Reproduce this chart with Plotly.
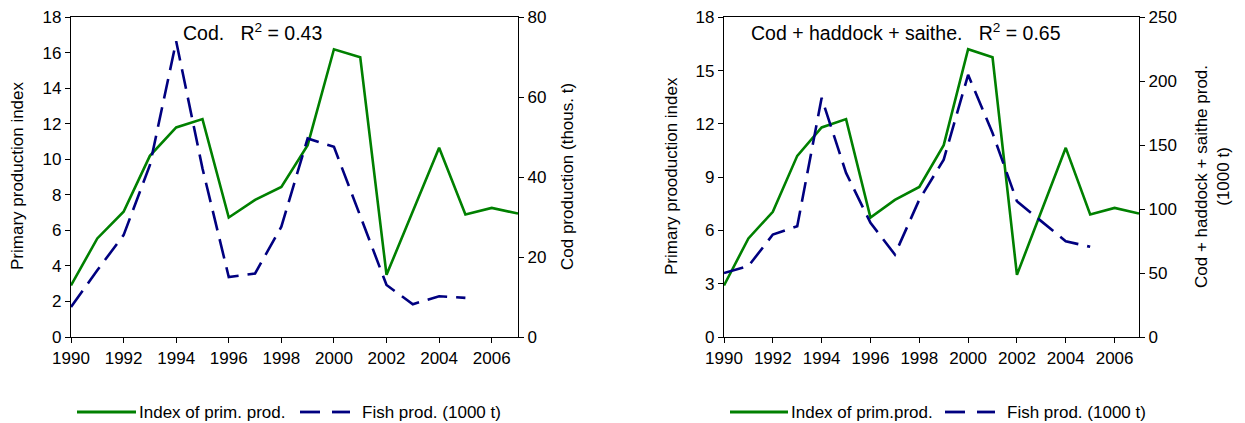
import plotly.graph_objects as go

# Years of the record
years = list(range(1990, 2008))

# Primary production index (same series in both panels)
prim_index = [2.9, 5.55, 7.05, 10.2, 11.8, 12.27, 6.73, 7.72, 8.45, 10.8,
              16.2, 15.75, 3.5, 7.1, 10.65, 6.9, 7.27, 6.95]

# Cod production, thousand tonnes (1990-2005)
fish_years = list(range(1990, 2006))
cod_prod = [7.5, 16.7, 25.5, 43.0, 74.0, 42.2, 15.0, 15.9, 27.6, 49.7,
            47.6, 30.1, 13.0, 8.2, 10.2, 9.8]

# Cod + haddock + saithe production, 1000 t (1990-2005)
chs_prod = [50.0, 55.4, 80.1, 86.6, 187.0, 128.3, 89.3, 64.5, 107.4, 138.7,
            205.0, 159.5, 106.1, 90.5, 74.9, 70.5]

GREEN = "#008000"
NAVY = "#000080"
FONT = "Liberation Sans, Arial, sans-serif"
FS = 17
TITLE_FS = 19.5
W, H = 1245, 423
DASH = "20px,9px"

x_ticks = list(range(1990, 2007, 2))

fig = go.Figure()

# Left panel
fig.add_trace(go.Scatter(x=years, y=prim_index, mode="lines",
                         line=dict(color=GREEN, width=2.6),
                         xaxis="x", yaxis="y", showlegend=False))
fig.add_trace(go.Scatter(x=fish_years, y=cod_prod, mode="lines",
                         line=dict(color=NAVY, width=2.6, dash=DASH),
                         xaxis="x", yaxis="y2", showlegend=False))
# Right panel
fig.add_trace(go.Scatter(x=years, y=prim_index, mode="lines",
                         line=dict(color=GREEN, width=2.6),
                         xaxis="x2", yaxis="y3", showlegend=False))
fig.add_trace(go.Scatter(x=fish_years, y=chs_prod, mode="lines",
                         line=dict(color=NAVY, width=2.6, dash=DASH),
                         xaxis="x2", yaxis="y4", showlegend=False))

def px_x(p):
    return p / W

def px_y(p):
    return 1 - p / H

ydom = [px_y(337), px_y(17.3)]
axis_common = dict(showline=True, linecolor="black", linewidth=1.3,
                   ticks="outside", ticklen=5, tickcolor="black",
                   showgrid=False, zeroline=False, automargin=False,
                   tickfont=dict(family=FONT, size=FS, color="black"))

fig.update_layout(
    width=W, height=H,
    margin=dict(l=0, r=0, t=0, b=0),
    paper_bgcolor="white", plot_bgcolor="white",
    font=dict(family=FONT, size=FS, color="black"),
    xaxis=dict(domain=[px_x(71), px_x(518)], range=[1990, 2007],
               tickvals=x_ticks, anchor="y", mirror=True, **axis_common),
    yaxis=dict(domain=ydom, range=[0, 18], dtick=2, anchor="x", **axis_common),
    yaxis2=dict(range=[0, 80], dtick=20, overlaying="y", side="right",
                anchor="x", **axis_common),
    xaxis2=dict(domain=[px_x(724), px_x(1139)], range=[1990, 2007],
                tickvals=x_ticks, anchor="y3", mirror=True, **axis_common),
    yaxis3=dict(domain=ydom, range=[0, 18], dtick=3, anchor="x2", **axis_common),
    yaxis4=dict(range=[0, 250], dtick=50, overlaying="y3", side="right",
                anchor="x2", **axis_common),
)

# Axis titles
texts = [
    (18, 176, "Primary production index"),
    (567, 177, "Cod production (thous. t)"),
    (672, 176, "Primary prooduction index"),
    (1212, 177, "Cod + haddock + saithe prod.<br>(1000 t)"),
]
for x, y, t in texts:
    fig.add_annotation(x=px_x(x), y=px_y(y), xref="paper", yref="paper",
                       xanchor="center", yanchor="middle",
                       text=t, textangle=-90, showarrow=False,
                       font=dict(family=FONT, size=FS, color="black"))

# Panel headings
fig.add_annotation(x=px_x(181), y=px_y(32), xref="paper", yref="paper",
                   xanchor="left", yanchor="middle", showarrow=False,
                   text="Cod.&nbsp;&nbsp;&nbsp;R<sup>2</sup> = 0.43",
                   font=dict(family=FONT, size=TITLE_FS, color="black"))
fig.add_annotation(x=px_x(749), y=px_y(32), xref="paper", yref="paper",
                   xanchor="left", yanchor="middle", showarrow=False,
                   text="Cod + haddock + saithe.&nbsp;&nbsp;&nbsp;R<sup>2</sup> = 0.65",
                   font=dict(family=FONT, size=TITLE_FS, color="black"))

# Legend keys drawn below each panel
legend_y = px_y(412)
def key_line(x0, x1, color):
    fig.add_shape(type="line", xref="paper", yref="paper",
                  x0=px_x(x0), x1=px_x(x1), y0=legend_y, y1=legend_y,
                  line=dict(color=color, width=2.8))

def key_text(x, t):
    fig.add_annotation(x=px_x(x), y=legend_y, xref="paper", yref="paper",
                       xanchor="left", yanchor="middle", showarrow=False,
                       text=t, font=dict(family=FONT, size=FS, color="black"))

key_line(77, 136, GREEN)
key_text(137, "Index of prim. prod.")
key_line(300, 320, NAVY)
key_line(332, 350, NAVY)
key_text(360, "Fish prod. (1000 t)")

key_line(730, 788, GREEN)
key_text(789, "Index of prim.prod.")
key_line(945, 965, NAVY)
key_line(977, 995, NAVY)
key_text(1005, "Fish prod. (1000 t)")

fig.write_html("out.html")
